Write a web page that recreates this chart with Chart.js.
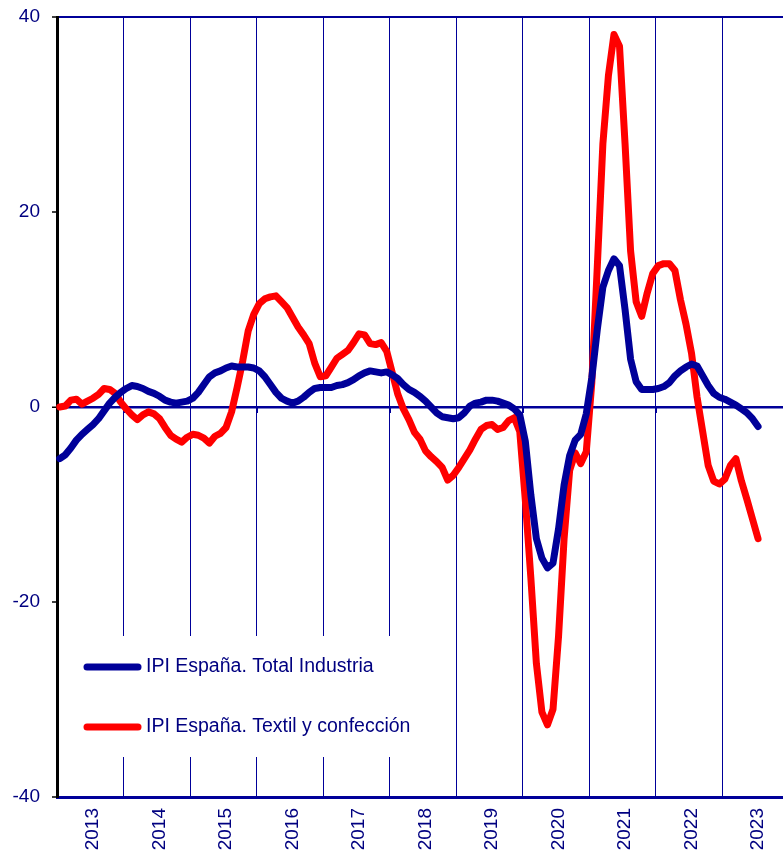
<!DOCTYPE html>
<html>
<head>
<meta charset="utf-8">
<script src="https://cdn.jsdelivr.net/npm/chart.js@4/dist/chart.umd.min.js"></script>
<style>
  html, body { margin: 0; padding: 0; background: #ffffff; }
  #wrap { width: 783px; height: 856px; }
</style>
</head>
<body>
<div id="wrap"><canvas id="c" width="783" height="856"></canvas></div>
<script>
// ---- Data (monthly, Jan 2013 onwards) ----
const years = ['2013','2014','2015','2016','2017','2018','2019','2020','2021','2022','2023'];
const yTicks = [-40, -20, 0, 20, 40];

const totalIndustria = [
  -5.3,-4.9,-4.2,-3.4,-2.8,-2.3,-1.8,-1.2,-0.4,0.4,1.0,1.5,
  1.9,2.2,2.1,1.9,1.6,1.4,1.1,0.7,0.5,0.4,0.5,0.6,
  0.9,1.5,2.3,3.1,3.5,3.7,4.0,4.2,4.1,4.1,4.1,4.0,
  3.7,3.1,2.3,1.5,0.9,0.6,0.4,0.6,1.0,1.5,1.9,2.0,
  2.0,2.0,2.2,2.3,2.5,2.8,3.2,3.5,3.7,3.6,3.5,3.6,
  3.3,2.9,2.3,1.8,1.5,1.1,0.6,0.0,-0.6,-1.0,-1.1,-1.2,
  -1.1,-0.6,0.1,0.4,0.5,0.7,0.7,0.6,0.4,0.2,-0.2,-0.8,
  -3.5,-9.0,-13.5,-15.5,-16.5,-16.0,-12.5,-8.0,-5.0,-3.4,-2.8,-0.7,
  3.0,8.0,12.3,14.0,15.2,14.5,10.0,4.9,2.6,1.8,1.8,1.8,
  1.9,2.1,2.5,3.2,3.7,4.1,4.4,4.2,3.2,2.2,1.4,1.0,
  0.8,0.5,0.2,-0.2,-0.6,-1.2,-2.0
];

const textilConfeccion = [
  0.0,0.1,0.7,0.8,0.3,0.6,0.9,1.3,1.9,1.8,1.4,0.5,
  -0.2,-0.8,-1.3,-0.8,-0.5,-0.7,-1.2,-2.1,-2.9,-3.3,-3.6,-3.1,
  -2.8,-2.9,-3.2,-3.7,-3.0,-2.7,-2.1,-0.5,2.0,4.7,7.8,9.5,
  10.6,11.1,11.3,11.4,10.8,10.2,9.2,8.2,7.4,6.5,4.5,3.1,
  3.2,4.1,5.0,5.4,5.8,6.6,7.5,7.4,6.5,6.4,6.6,5.7,
  3.5,1.3,-0.2,-1.3,-2.6,-3.3,-4.5,-5.1,-5.6,-6.2,-7.5,-7.0,
  -6.2,-5.3,-4.4,-3.3,-2.3,-1.9,-1.8,-2.3,-2.1,-1.4,-1.1,-2.5,
  -9.5,-17.5,-26.3,-31.3,-32.6,-31.0,-23.5,-13.5,-6.5,-4.7,-5.8,-4.6,
  2.5,14.5,27.0,34.0,38.2,37.0,27.0,16.0,10.8,9.3,11.7,13.7,
  14.5,14.7,14.7,14.0,11.0,8.5,5.5,1.0,-2.5,-6.0,-7.6,-7.9,
  -7.4,-6.0,-5.3,-7.6,-9.5,-11.5,-13.5
];

const seriesLabels = ['IPI España. Total Industria', 'IPI España. Textil y confección'];

// categories: one per month, Jan 2013 .. Nov 2023
const categories = [];
years.forEach(y => { for (let m = 1; m <= 12; m++) categories.push(y + '-' + String(m).padStart(2, '0')); });
categories.length = 131;

const NAVY = '#000099';
const TEXT = '#000080';
const FONT = 'Arial, "Liberation Sans", sans-serif';

// zero line ticks at year boundaries
const zeroTicks = {
  id: 'zeroTicks',
  beforeDatasetsDraw(chart) {
    const ctx = chart.ctx, xs = chart.scales.x, ys = chart.scales.y;
    const y0 = ys.getPixelForValue(0);
    ctx.save();
    ctx.strokeStyle = NAVY; ctx.lineWidth = 1;
    for (let k = 12; k < categories.length; k += 12) {
      const x = Math.round((xs.getPixelForTick(k - 1) + xs.getPixelForTick(k)) / 2) + 0.5;
      ctx.beginPath(); ctx.moveTo(x, y0); ctx.lineTo(x, y0 + 6); ctx.stroke();
    }
    ctx.restore();
  }
};

// legend box inside the plot
const boxLegend = {
  id: 'boxLegend',
  afterDatasetsDraw(chart) {
    const ctx = chart.ctx, a = chart.chartArea;
    const bx = a.left + 2, by = 636, bw = 450 - bx, bh = 121;
    ctx.save();
    ctx.fillStyle = '#ffffff';
    ctx.fillRect(bx, by, bw, bh);
    chart.data.datasets.forEach((ds, i) => {
      const yy = by + 31 + i * 60;
      ctx.strokeStyle = ds.borderColor; ctx.lineWidth = 7; ctx.lineCap = 'round';
      ctx.beginPath(); ctx.moveTo(a.left + 30, yy); ctx.lineTo(a.left + 81, yy); ctx.stroke();
      ctx.fillStyle = TEXT; ctx.font = '19.5px ' + FONT; ctx.textBaseline = 'middle'; ctx.textAlign = 'left';
      ctx.fillText(ds.label, a.left + 89, yy);
    });
    ctx.restore();
  }
};

new Chart(document.getElementById('c'), {
  type: 'line',
  data: {
    labels: categories,
    datasets: [
      { label: seriesLabels[0], data: totalIndustria, borderColor: NAVY, borderWidth: 7,
        pointRadius: 0, tension: 0, borderCapStyle: 'round', borderJoinStyle: 'round', fill: false },
      { label: seriesLabels[1], data: textilConfeccion, borderColor: '#ff0000', borderWidth: 7,
        pointRadius: 0, tension: 0, borderCapStyle: 'round', borderJoinStyle: 'round', fill: false }
    ]
  },
  options: {
    responsive: false,
    animation: false,
    layout: { padding: { left: 0, top: 17, right: 0, bottom: 0 } },
    plugins: { legend: { display: false }, tooltip: { enabled: false } },
    scales: {
      x: {
        type: 'category',
        offset: true,
        afterFit: (s) => { s.height = 59; s.paddingLeft = 0; s.paddingRight = 0; },
        grid: {
          offset: true,
          drawTicks: false,
          color: (c) => (c.index > 0 && c.index % 12 === 0 && c.index < categories.length) ? NAVY : 'rgba(0,0,0,0)',
          lineWidth: 1
        },
        border: { display: true, color: NAVY, width: 3 },
        ticks: {
          autoSkip: false, minRotation: 90, maxRotation: 90, padding: 11,
          color: TEXT, font: { family: FONT, size: 19 },
          callback: (v, i) => (i % 12 === 6) ? years[Math.floor(i / 12)] : ''
        }
      },
      y: {
        min: -40, max: 40,
        afterFit: (s) => { s.width = 57; s.paddingTop = 0; s.paddingBottom = 0; },
        afterBuildTicks: (s) => { s.ticks = yTicks.map(v => ({ value: v })); },
        grid: {
          color: (c) => (c.tick && (c.tick.value === 0 || c.tick.value === 40)) ? NAVY : 'rgba(0,0,0,0)',
          lineWidth: (c) => (c.tick && c.tick.value === 0) ? 2.5 : 2,
          tickColor: '#000000', tickLength: 5, tickWidth: 1.5
        },
        border: { display: true, color: '#000000', width: 3 },
        ticks: { color: TEXT, font: { family: FONT, size: 19 }, padding: 12 }
      }
    }
  },
  plugins: [zeroTicks, boxLegend]
});
</script>
</body>
</html>
